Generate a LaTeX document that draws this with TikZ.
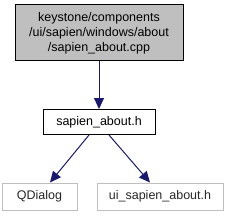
\documentclass[tikz,border=0pt]{standalone}
\usepackage{fontspec}
\setmainfont{Liberation Sans}
\usetikzlibrary{arrows.meta}
\definecolor{edgeblue}{HTML}{191970}
\definecolor{greyfill}{HTML}{BFBFBF}
\definecolor{lightborder}{HTML}{BFBFBF}
\tikzset{
  box/.style={draw=black, line width=1pt, inner sep=0pt, font=\fontsize{12.5}{15}\selectfont, align=center},
  extbox/.style={draw=lightborder, line width=1pt, inner sep=0pt, font=\fontsize{12.5}{15}\selectfont, text=black!85},
  edge/.style={draw=edgeblue, line width=1pt, -{Triangle[length=11pt,width=10pt]}}
}
\begin{document}
\begin{tikzpicture}[x=1pt,y=-1pt]
\useasboundingbox (0,0) rectangle (229,216);
\node[box, fill=greyfill, minimum width=168pt, minimum height=56pt] (src) at (99,33) {keystone/components\\/ui/sapien/windows/about\\/sapien\_about.cpp};
\node[box, minimum width=112pt, minimum height=25pt] (hdr) at (99,122) {sapien\_about.h};
\node[extbox, minimum width=75pt, minimum height=27pt] (qd) at (39.5,196.5) {QDialog};
\node[extbox, minimum width=126pt, minimum height=27pt] (ui) at (160,196.5) {ui\_sapien\_about.h};
\draw[edge] (src) -- (hdr);
\draw[edge] (hdr.south -| 89,0) -- (qd.north -| 50,0);
\draw[edge] (hdr.south -| 109,0) -- (ui.north -| 150,0);
\end{tikzpicture}
\end{document}
